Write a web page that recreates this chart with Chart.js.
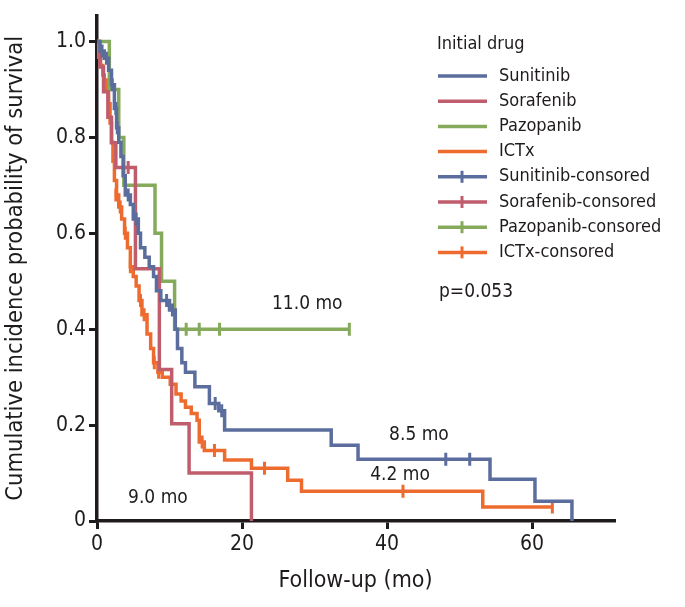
<!DOCTYPE html>
<html>
<head>
<meta charset="utf-8">
<script src="https://cdn.jsdelivr.net/npm/chart.js@4"></script>
<style>
  body { margin: 0; background: #fff; }
  canvas { display: block; }
</style>
</head>
<body>
<canvas id="kmChart" width="685" height="607"></canvas>
<script>
// Kaplan-Meier curves (months, survival after the step)
const sunitinibT = [0, 0.4, 1.0, 1.6, 2.0, 2.4, 2.7, 3.0, 3.3, 3.6, 3.9, 4.6, 5.0, 5.7, 6.0, 6.6, 7.2, 7.8, 8.2, 8.8, 10.0, 10.8, 11.1, 11.7, 12.2, 13.5, 15.5, 16.8, 17.6, 32.3, 36.0, 54.2, 60.4, 65.5];
const sunitinibS = [1.0, 0.98, 0.965, 0.94, 0.91, 0.86, 0.82, 0.79, 0.76, 0.72, 0.68, 0.66, 0.63, 0.60, 0.57, 0.55, 0.53, 0.51, 0.48, 0.46, 0.44, 0.40, 0.36, 0.33, 0.31, 0.28, 0.245, 0.23, 0.19, 0.158, 0.129, 0.087, 0.041, 0];
const sunitinibCensT = [0.7, 1.3, 2.1, 2.6, 2.8, 4.3, 5.4, 9.6, 10.4, 16.3, 17.2, 48.1, 51.4];
const sunitinibCensS = [0.98, 0.965, 0.91, 0.86, 0.82, 0.68, 0.63, 0.46, 0.44, 0.245, 0.23, 0.129, 0.129];

const sorafenibT = [0, 0.4, 0.9, 1.5, 2.0, 2.6, 5.3, 8.6, 10.3, 12.7, 21.3];
const sorafenibS = [1.0, 0.947, 0.895, 0.842, 0.789, 0.737, 0.526, 0.316, 0.203, 0.10, 0];
const sorafenibCensT = [4.3];
const sorafenibCensS = [0.737];

const pazopanibT = [0, 1.7, 3.0, 3.7, 8.0, 8.9, 10.7, 34.8];
const pazopanibS = [1.0, 0.9, 0.8, 0.7, 0.6, 0.5, 0.4, 0.4];
const pazopanibCensT = [12.3, 14.1, 16.9, 34.8];
const pazopanibCensS = [0.4, 0.4, 0.4, 0.4];

const ictxT = [0, 0.2, 0.5, 0.8, 1.0, 1.6, 1.8, 2.0, 2.2, 2.4, 2.7, 3.0, 3.4, 3.8, 4.2, 4.6, 5.0, 5.4, 5.8, 6.2, 6.9, 7.4, 7.8, 8.4, 9.0, 10.1, 10.9, 11.6, 12.2, 13.0, 13.8, 14.1, 14.8, 17.6, 21.3, 26.3, 28.2, 53.2, 62.8];
const ictxS = [1.0, 0.967, 0.95, 0.93, 0.91, 0.87, 0.83, 0.79, 0.75, 0.71, 0.68, 0.655, 0.63, 0.60, 0.57, 0.53, 0.51, 0.49, 0.46, 0.43, 0.39, 0.36, 0.33, 0.31, 0.30, 0.285, 0.265, 0.25, 0.237, 0.224, 0.21, 0.165, 0.147, 0.127, 0.11, 0.085, 0.062, 0.029, 0.029];
const ictxCensT = [1.1, 1.4, 2.6, 3.2, 3.9, 4.6, 6.0, 6.5, 7.9, 8.5, 14.5, 16.2, 23.1, 42.2, 62.8];
const ictxCensS = [0.91, 0.91, 0.68, 0.655, 0.60, 0.53, 0.46, 0.43, 0.33, 0.31, 0.165, 0.147, 0.11, 0.062, 0.029];

const xTicks = [0, 20, 40, 60];
const yTicks = [0, 0.2, 0.4, 0.6, 0.8, 1.0];

const seriesNames = ["Sunitinib", "Sorafenib", "Pazopanib", "ICTx"];
const seriesColors = ["#5a6d9c", "#bf5d6c", "#86aa5c", "#ee6b30"];

// median labels: [text, month, survival]
const medianLabels = [
    ["11.0 mo", 29.0, 0.452],
    ["8.5 mo", 44.4, 0.18],
    ["4.2 mo", 41.8, 0.095],
    ["9.0 mo", 8.4, 0.048],
];

const FONT = "'Liberation Sans Narrow', 'DejaVu Sans Condensed', 'Liberation Sans', sans-serif";
const INK = "#1f1b1c";

function toPoints(t, s) {
    return t.map((x, i) => ({ x: x, y: s[i] }));
}

const curves = [
    [sunitinibT, sunitinibS, sunitinibCensT, sunitinibCensS],
    [sorafenibT, sorafenibS, sorafenibCensT, sorafenibCensS],
    [pazopanibT, pazopanibS, pazopanibCensT, pazopanibCensS],
    [ictxT, ictxS, ictxCensT, ictxCensS],
];

const datasets = [];
curves.forEach((c, i) => {
    datasets.push({
        label: seriesNames[i],
        data: toPoints(c[0], c[1]),
        showLine: true,
        stepped: true,
        borderColor: seriesColors[i],
        borderWidth: 3.5,
        pointRadius: 0,
        fill: false,
        order: i,
    });
});
curves.forEach((c, i) => {
    datasets.push({
        label: seriesNames[i] + "-consored",
        data: toPoints(c[2], c[3]),
        showLine: false,
        pointStyle: "line",
        rotation: 90,
        pointRadius: 6.5,
        pointBorderWidth: 3,
        borderColor: seriesColors[i],
        backgroundColor: seriesColors[i],
        order: i,
    });
});

// legend, p value and median labels drawn on the canvas
const extrasPlugin = {
    id: "extras",
    afterDraw(chart) {
        const ctx = chart.ctx;
        const xs = chart.scales.x, ys = chart.scales.y;
        ctx.save();
        ctx.fillStyle = INK;
        ctx.textBaseline = "middle";

        ctx.font = "19px " + FONT;
        ctx.textAlign = "center";
        medianLabels.forEach(m => {
            ctx.fillText(m[0], xs.getPixelForValue(m[1]), ys.getPixelForValue(m[2]));
        });

        ctx.textAlign = "left";
        ctx.font = "18px " + FONT;
        ctx.fillText("Initial drug", 437, 44);
        const rowY = 76, rowH = 25.2;
        const names = seriesNames.concat(seriesNames.map(n => n + "-consored"));
        names.forEach((n, i) => {
            const y = rowY + i * rowH;
            const col = seriesColors[i % 4];
            ctx.strokeStyle = col;
            ctx.lineWidth = 3.5;
            ctx.beginPath();
            ctx.moveTo(438, y);
            ctx.lineTo(487, y);
            ctx.stroke();
            if (i >= 4) {
                ctx.lineWidth = 3;
                ctx.beginPath();
                ctx.moveTo(462, y - 6);
                ctx.lineTo(462, y + 6);
                ctx.stroke();
            }
            ctx.fillStyle = INK;
            ctx.fillText(n, 499, y);
        });
        ctx.font = "19px " + FONT;
        ctx.fillText("p=0.053", 439, 292);
        ctx.restore();
    },
};

const keepTicks = (list) => (scale) => {
    scale.ticks = list.map(v => ({ value: v }));
};

new Chart(document.getElementById("kmChart"), {
    type: "scatter",
    data: { datasets: datasets },
    options: {
        responsive: false,
        animation: false,
        layout: { padding: { top: 12, right: 71, left: 0, bottom: 0 } },
        plugins: {
            legend: { display: false },
            tooltip: { enabled: false },
        },
        scales: {
            x: {
                type: "linear",
                min: 0,
                max: 71.3,
                afterBuildTicks: keepTicks(xTicks),
                afterFit(scale) { scale.height = 86; },
                border: { color: INK, width: 3.5 },
                grid: { drawOnChartArea: false, drawTicks: true, tickLength: 8, color: INK, lineWidth: 3 },
                ticks: { color: INK, padding: 3, font: { family: FONT, size: 21 } },
                title: { display: true, text: "Follow-up (mo)", color: INK, font: { family: FONT, size: 23 }, padding: { top: 0, bottom: 12 } },
            },
            y: {
                type: "linear",
                min: 0,
                max: 1.054,
                afterBuildTicks: keepTicks(yTicks),
                afterFit(scale) { scale.width = 97; },
                border: { color: INK, width: 3.5 },
                grid: { drawOnChartArea: false, drawTicks: true, tickLength: 8, color: INK, lineWidth: 3 },
                ticks: {
                    color: INK,
                    padding: 3,
                    font: { family: FONT, size: 21 },
                    callback: (v) => (v === 0 ? "0" : v.toFixed(1)),
                },
                title: { display: true, text: "Cumulative incidence probability of survival", color: INK, font: { family: FONT, size: 23.5 }, padding: { top: 2, bottom: 4 } },
            },
        },
    },
    plugins: [extrasPlugin],
});
</script>
</body>
</html>
